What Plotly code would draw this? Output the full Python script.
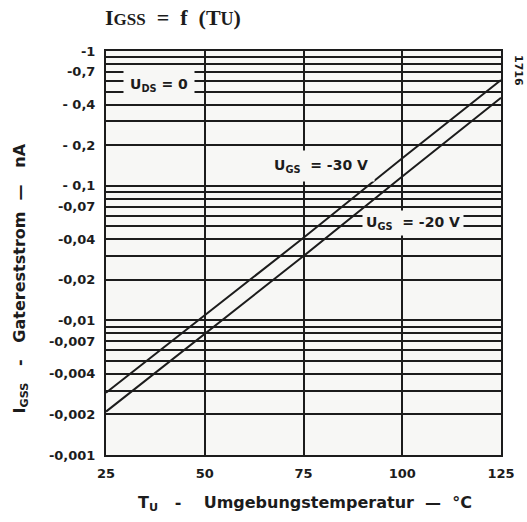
import plotly.graph_objects as go

# Data (gate leakage current, nA; negative values)
temps = [25, 50, 75, 100, 125]
igss_ugs30 = [-0.0029, -0.0109, -0.041, -0.16, -0.61]
igss_ugs20 = [-0.0021, -0.0080, -0.030, -0.117, -0.45]

y_tick_vals = [-1, -0.7, -0.4, -0.2, -0.1, -0.07, -0.04, -0.02, -0.01, -0.007, -0.004, -0.002, -0.001]
y_tick_text = ["-1", "-0,7", "- 0,4", "- 0,2", "- 0,1", "-0,07", "-0,04", "-0,02", "-0,01", "-0,007", "-0,004", "-0,002", "-0,001"]
y_minor_vals = [-m * d for d in (0.1, 0.01, 0.001) for m in (9, 8, 6, 5, 3)]
x_tick_vals = [25, 50, 75, 100, 125]

INK = "#1c1c1c"
BG = "#f7f7f5"
FONT = "DejaVu Sans"
NB = "\u00a0"

fig = go.Figure()
for vals in (igss_ugs30, igss_ugs20):
    fig.add_trace(go.Scatter(
        x=temps, y=[-v for v in vals], mode="lines",
        line=dict(color=INK, width=2), showlegend=False, hoverinfo="skip"))

fig.update_layout(
    width=527, height=522, autosize=False,
    margin=dict(l=106, r=22, t=51, b=67),
    paper_bgcolor="white", plot_bgcolor=BG,
    font=dict(family=FONT, color=INK, size=12),
    title=dict(
        text=(f"I<span style='font-size:17px'>GSS</span>{NB}{NB}={NB}{NB}f{NB}{NB}"
              f"(T<span style='font-size:18px'>U</span>)"),
        font=dict(family="Liberation Serif", size=22, color=INK, weight="bold"),
        x=105 / 527, xanchor="left", y=1 - 17 / 522, yanchor="middle"),
)

tick_font = dict(family=FONT, size=13, color=INK, weight="bold")

fig.update_xaxes(
    range=[25, 125], tickvals=x_tick_vals, ticktext=[str(t) for t in x_tick_vals],
    showgrid=True, gridcolor=INK, gridwidth=1.7,
    showline=True, linecolor=INK, linewidth=2, mirror=True,
    ticks="", ticklabelstandoff=5, zeroline=False,
    tickfont=tick_font,
)

fig.update_yaxes(
    type="log", range=[-3, 0],
    tickvals=[-v for v in y_tick_vals], ticktext=y_tick_text,
    showgrid=True, gridcolor=INK, gridwidth=1.7,
    minor=dict(tickvals=[-v for v in y_minor_vals], showgrid=True,
               gridcolor=INK, gridwidth=1.7, ticks=""),
    showline=True, linecolor=INK, linewidth=2, mirror=True,
    ticks="", ticklabelstandoff=6, zeroline=False,
    tickfont=tick_font,
)

title_font = dict(family=FONT, size=16, color=INK, weight="bold")
# axis titles
fig.add_annotation(xref="paper", x=0.505, yref="paper", y=0, yshift=-48,
                   yanchor="middle", showarrow=False, font=title_font,
                   text=(f"T<sub>U</sub>{NB}{NB}{NB}-{NB}{NB}{NB}{NB}Umgebungstemperatur"
                         f"{NB}{NB}—{NB}{NB}°C"))
fig.add_annotation(xref="paper", x=0, xshift=-86, yref="paper", y=0.437,
                   xanchor="center", textangle=-90, showarrow=False, font=title_font,
                   text=(f"I<sub>GSS</sub>{NB}{NB}{NB}-{NB}{NB}{NB}Gatereststrom"
                         f"{NB}{NB}—{NB}{NB}{NB}nA"))

label_font = dict(family=FONT, size=14, color=INK, weight="bold")
fig.add_annotation(x=38.3, y=-0.2525, xref="x", yref="y",
                   text=f"U<sub>DS</sub>{NB}={NB}0", showarrow=False,
                   bgcolor=BG, borderpad=6, font=label_font)
fig.add_annotation(x=79.4, y=-0.854, xref="x", yref="y",
                   text=f"U<sub>GS</sub>{NB}{NB}={NB}-30{NB}V", showarrow=False,
                   bgcolor=BG, borderpad=6, font=label_font)
fig.add_annotation(x=102.6, y=-1.277, xref="x", yref="y",
                   text=f"U<sub>GS</sub>{NB}{NB}={NB}-20{NB}V", showarrow=False,
                   bgcolor=BG, borderpad=3, font=label_font)
fig.add_annotation(x=1.0, xref="paper", xanchor="left", xshift=9,
                   y=1.0, yref="paper", yanchor="top", yshift=-2,
                   text="1716", textangle=90, showarrow=False,
                   font=dict(family=FONT, size=11, color=INK, weight="bold"))

fig.write_html("out.html")
